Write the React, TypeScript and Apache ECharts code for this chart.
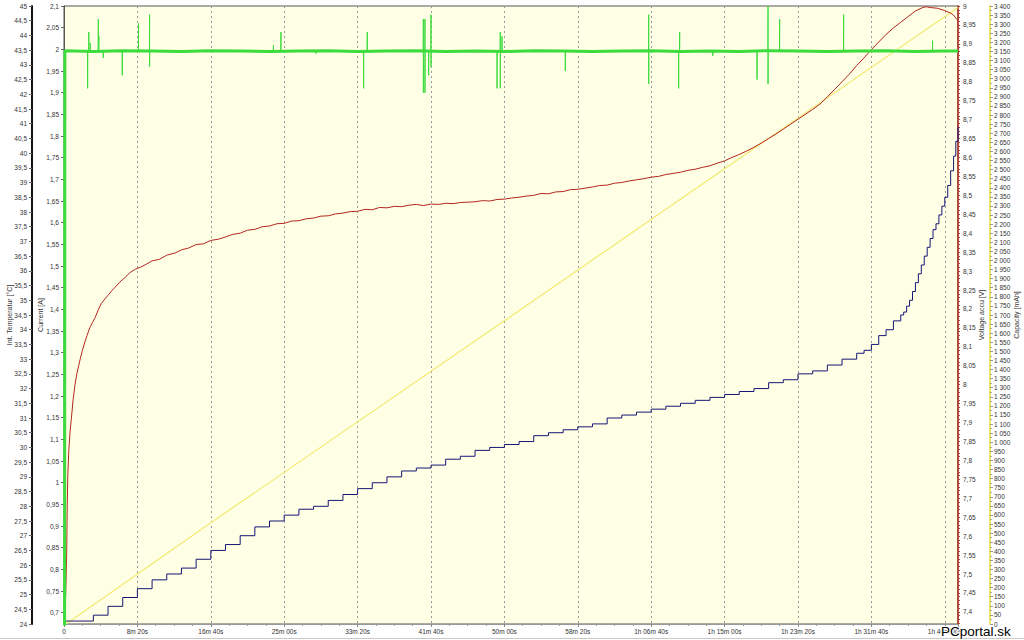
import React, { useEffect, useRef } from 'react';
import * as echarts from 'echarts';

// ---- axis ticks (label positions) ----
const timeLabelStep = 500; // s between time labels
const timeMax = 6090; // s, right edge of the plot
const tempRange = [24, 45];
const currentRange = [0.674, 2.1];
const voltRange = [7.368, 9];
const capRange = [0, 3400];
const currentTicks: number[] = [];
for (let i = 14; i <= 42; i++) currentTicks.push(Number((i * 0.05).toFixed(2)));
const voltTicks: number[] = [];
for (let i = 148; i <= 180; i++) voltTicks.push(Number((i * 0.05).toFixed(2)));
const voltMinorTicks: number[] = [];
for (let i = 737; i <= 900; i++) voltMinorTicks.push(Number((i * 0.01).toFixed(2)));

// ---- series: capacity [s, mAh] ----
const capacity: [number, number][] = [
  [14, 0], [929, 517], [3000, 1668], [6090, 3392],
];

// ---- series: internal temperature [s, °C] ----
const temperature: [number, number][] = [
  [0, 24.1], [100, 24.1], [200, 24.3], [300, 24.6], [400, 24.9], [500, 25.2], [600, 25.5],
  [700, 25.7], [800, 25.9], [900, 26.2], [1000, 26.5], [1100, 26.7], [1200, 27.0],
  [1300, 27.3], [1400, 27.5], [1500, 27.7], [1600, 27.9], [1700, 28.0], [1800, 28.2],
  [1900, 28.4], [2000, 28.6], [2100, 28.8], [2200, 29.0], [2300, 29.2], [2400, 29.3],
  [2500, 29.4], [2600, 29.6], [2700, 29.7], [2800, 29.9], [2900, 30.0], [3000, 30.1],
  [3100, 30.2], [3200, 30.4], [3300, 30.5], [3400, 30.6], [3500, 30.7], [3600, 30.8],
  [3700, 31.0], [3800, 31.1], [3900, 31.2], [4000, 31.3], [4100, 31.4], [4200, 31.5],
  [4300, 31.6], [4400, 31.7], [4500, 31.8], [4600, 31.9], [4700, 32.0], [4800, 32.2],
  [4900, 32.3], [5000, 32.5], [5100, 32.6], [5200, 32.8], [5300, 33.0], [5400, 33.2],
  [5450, 33.3], [5500, 33.5], [5550, 33.8], [5600, 34.0], [5650, 34.3], [5700, 34.5],
  [5720, 34.6], [5740, 34.8], [5760, 35.0], [5780, 35.3], [5800, 35.6], [5820, 35.9],
  [5840, 36.2], [5860, 36.5], [5880, 36.8], [5900, 37.1], [5920, 37.4], [5940, 37.6],
  [5960, 37.9], [5980, 38.2], [6000, 38.5], [6020, 38.9], [6040, 39.4], [6060, 39.9],
  [6075, 40.4], [6090, 40.9],
];

// ---- series: accu voltage [s, V] ----
const voltage: [number, number][] = [
  [6, 7.40], [12, 7.45], [18, 7.55], [20, 7.61], [22, 7.68], [26, 7.76], [32, 7.82],
  [40, 7.87], [50, 7.91], [62, 7.96], [75, 8.0], [88, 8.03], [100, 8.05], [112, 8.07],
  [125, 8.09], [140, 8.11], [157, 8.13], [175, 8.15], [195, 8.165], [213, 8.178],
  [236, 8.2], [255, 8.215], [280, 8.227], [304, 8.238], [330, 8.25], [350, 8.258],
  [380, 8.271], [418, 8.284], [450, 8.296], [486, 8.305], [520, 8.31], [560, 8.318],
  [600, 8.327], [650, 8.331], [700, 8.342], [758, 8.348], [800, 8.356], [850, 8.361],
  [900, 8.37], [950, 8.372], [1000, 8.381], [1050, 8.384], [1100, 8.39], [1150, 8.397],
  [1200, 8.4], [1250, 8.408], [1300, 8.41], [1350, 8.417], [1400, 8.419], [1450, 8.425],
  [1500, 8.426], [1550, 8.432], [1600, 8.433], [1650, 8.438], [1700, 8.44], [1750, 8.445],
  [1800, 8.446], [1850, 8.451], [1900, 8.453], [1950, 8.457], [2000, 8.458], [2050, 8.463],
  [2100, 8.462], [2150, 8.468], [2200, 8.467], [2250, 8.471], [2300, 8.47], [2350, 8.474],
  [2400, 8.476], [2450, 8.473], [2500, 8.477], [2550, 8.476], [2600, 8.479], [2650, 8.478],
  [2700, 8.481], [2750, 8.482], [2800, 8.483], [2850, 8.486], [2900, 8.485], [2950, 8.489],
  [3000, 8.49], [3050, 8.493], [3100, 8.495], [3150, 8.498], [3200, 8.5], [3250, 8.505],
  [3300, 8.504], [3350, 8.509], [3400, 8.51], [3450, 8.515], [3500, 8.516], [3550, 8.519],
  [3600, 8.522], [3650, 8.526], [3700, 8.527], [3750, 8.532], [3800, 8.534], [3850, 8.538],
  [3900, 8.541], [3950, 8.544], [4000, 8.548], [4050, 8.55], [4100, 8.555], [4150, 8.558],
  [4200, 8.561], [4250, 8.566], [4300, 8.569], [4350, 8.574], [4400, 8.578], [4450, 8.585],
  [4500, 8.591], [4550, 8.6], [4600, 8.608], [4650, 8.617], [4700, 8.627], [4750, 8.638],
  [4800, 8.65], [4850, 8.662], [4900, 8.675], [4950, 8.688], [5000, 8.701], [5050, 8.714],
  [5100, 8.727], [5150, 8.741], [5200, 8.76], [5250, 8.78], [5300, 8.8], [5350, 8.82],
  [5400, 8.843], [5450, 8.863], [5500, 8.885], [5550, 8.905], [5600, 8.925], [5650, 8.942],
  [5700, 8.957], [5750, 8.972], [5800, 8.987], [5850, 8.996], [5875, 8.998], [5900, 8.996],
  [5950, 8.994], [6000, 8.988], [6040, 8.981], [6060, 8.976], [6075, 8.968], [6090, 8.962],
];

// ---- series: charging current, steady band [s, A] ----
const currentBand: [number, number][] = [
  [4, 0.6], [6, 1.997], [200, 1.995], [400, 1.997], [600, 1.996], [800, 1.995], [1000, 1.997],
  [1200, 1.996], [1400, 1.995], [1600, 1.996], [1800, 1.997], [2000, 1.995], [2200, 1.996],
  [2400, 1.997], [2600, 1.995], [2800, 1.996], [3000, 1.995], [3200, 1.997], [3400, 1.996],
  [3600, 1.995], [3800, 1.996], [4000, 1.997], [4200, 1.995], [4400, 1.996], [4600, 1.995],
  [4800, 1.997], [5000, 1.996], [5200, 1.995], [5400, 1.996], [5600, 1.997], [5800, 1.995],
  [6000, 1.996], [6090, 1.996],
];
const currentBase = 1.996;
// spikes: [s, lowest A, highest A]
const currentSpikes: [number, number, number][] = [
  [161, 1.91, 1.996], [169, 1.996, 2.04], [179, 1.996, 2.015], [234, 1.996, 2.07],
  [238, 1.996, 2.03], [268, 1.98, 1.996], [397, 1.94, 1.996], [508, 1.996, 2.06],
  [583, 1.96, 2.08], [1427, 1.996, 2.01], [1478, 1.996, 2.04], [1717, 1.99, 1.996],
  [2041, 1.91, 1.996], [2066, 1.996, 2.04], [2448, 1.9, 2.07], [2459, 1.9, 2.07],
  [2484, 1.94, 1.996], [2500, 1.96, 2.08], [2950, 1.91, 1.996], [2972, 1.91, 2.04],
  [2984, 1.996, 2.03], [3415, 1.95, 1.996], [3983, 1.92, 2.08], [4187, 1.91, 1.996],
  [4194, 1.996, 2.04], [4420, 1.985, 1.996], [4721, 1.93, 1.996], [4796, 1.92, 2.1],
  [4875, 1.996, 2.07], [5311, 1.996, 2.08], [5917, 1.996, 2.02],
];

const FONT = '"Liberation Sans", Arial, sans-serif';
const labelStyle = { fontSize: 6.5, color: '#333', fontFamily: FONT };
const nameStyle = { fontSize: 7, color: '#333', fontFamily: FONT };

const fmtDec = (v: number) => String(Number(v.toFixed(2))).replace('.', ',');
const fmtCap = (v: number) =>
  v >= 1000 ? `${Math.floor(v / 1000)} ${String(v % 1000).padStart(3, '0')}` : String(v);
const pad = (n: number) => String(n).padStart(2, '0');
const fmtTime = (v: number) => {
  if (v === 0) return '0';
  if (v % timeLabelStep !== 0) return '';
  const h = Math.floor(v / 3600);
  const m = Math.floor((v % 3600) / 60);
  const s = v % 60;
  return h > 0 ? `${h}h ${pad(m)}m ${pad(s)}s` : `${m}m ${pad(s)}s`;
};

export default function App() {
  const ref = useRef<HTMLDivElement>(null);
  useEffect(() => {
    if (!ref.current) return;
    const chart = echarts.init(ref.current, undefined, { renderer: 'svg' });
    const spikeData: [number, number][] = [];
    currentSpikes.forEach(([t, lo, hi]) => {
      spikeData.push([t - 1, currentBase], [t, hi], [t, lo], [t + 1, currentBase]);
    });
    chart.setOption({
      animation: false,
      backgroundColor: '#ffffff',
      grid: {
        left: 64, right: 66, top: 6, bottom: 16,
        containLabel: false, outerBoundsMode: 'none',
        show: true, backgroundColor: '#FFFFE6', borderColor: '#555', borderWidth: 1,
      },
      xAxis: {
        type: 'value', min: 0, max: timeMax, interval: timeLabelStep,
        axisLine: { show: true, lineStyle: { color: '#999', width: 1 } },
        axisTick: { show: true, length: 3, lineStyle: { color: '#888' } },
        minorTick: { show: true, splitNumber: 4, length: 2, lineStyle: { color: '#999' } },
        axisLabel: { ...labelStyle, margin: 4, formatter: fmtTime, hideOverlap: false },
        splitLine: { show: true, lineStyle: { color: '#999', type: [2, 3], width: 1 } },
      },
      yAxis: [
        {
          type: 'value', position: 'left', min: currentRange[0], max: currentRange[1],
          name: 'Current [A]', nameLocation: 'middle', nameGap: 20, nameRotate: 90,
          nameMoveOverlap: false, nameTextStyle: nameStyle,
          axisLine: { show: true, lineStyle: { color: '#555', width: 1 } },
          axisTick: { show: true, length: 3, customValues: currentTicks, lineStyle: { color: '#666' } },
          axisLabel: { ...labelStyle, margin: 5, customValues: currentTicks, formatter: fmtDec },
          splitLine: { show: false },
        },
        {
          type: 'value', position: 'left', offset: 32, min: tempRange[0], max: tempRange[1], interval: 0.5,
          name: 'Int. Temperatur [°C]', nameLocation: 'middle', nameGap: 19, nameRotate: 90,
          nameMoveOverlap: false, nameTextStyle: nameStyle,
          axisLine: { show: true, lineStyle: { color: '#111', width: 2 } },
          axisTick: { show: true, length: 3, lineStyle: { color: '#666' } },
          axisLabel: { ...labelStyle, margin: 5, formatter: fmtDec },
          splitLine: { show: false },
        },
        {
          type: 'value', position: 'right', min: voltRange[0], max: voltRange[1],
          name: 'Voltage accu [V]', nameLocation: 'middle', nameGap: 20, nameRotate: 90,
          nameMoveOverlap: false, nameTextStyle: nameStyle,
          axisLine: { show: true, lineStyle: { color: '#B04A3C', width: 2 } },
          axisTick: { show: true, length: 2, customValues: voltMinorTicks, lineStyle: { color: '#B04A3C' } },
          axisLabel: { ...labelStyle, margin: 5, customValues: voltTicks, formatter: fmtDec },
          splitLine: { show: false },
        },
        {
          type: 'value', position: 'right', offset: 32, min: capRange[0], max: capRange[1], interval: 50,
          name: 'Capacity [mAh]', nameLocation: 'middle', nameGap: 23, nameRotate: 90,
          nameMoveOverlap: false, nameTextStyle: nameStyle,
          axisLine: { show: true, lineStyle: { color: '#EDE36A', width: 2 } },
          axisTick: { show: true, length: 3, lineStyle: { color: '#999' } },
          minorTick: { show: true, splitNumber: 2, length: 2, lineStyle: { color: '#aaa' } },
          axisLabel: { ...labelStyle, margin: 4, formatter: fmtCap },
          splitLine: { show: false },
        },
      ],
      series: [
        {
          name: 'Capacity', type: 'line', yAxisIndex: 3, data: capacity, showSymbol: false,
          lineStyle: { color: '#F2EA70', width: 1.2 },
        },
        {
          name: 'Temperature', type: 'line', yAxisIndex: 1, data: temperature, showSymbol: false,
          step: 'end', lineStyle: { color: '#151575', width: 1 },
        },
        {
          name: 'Voltage', type: 'line', yAxisIndex: 2, data: voltage, showSymbol: false,
          lineStyle: { color: '#B3261E', width: 1 },
        },
        {
          name: 'Current', type: 'line', yAxisIndex: 0, data: currentBand, showSymbol: false,
          lineStyle: { color: '#3CDC3C', width: 3 },
        },
        {
          name: 'Current spikes', type: 'line', yAxisIndex: 0, data: spikeData, showSymbol: false,
          lineStyle: { color: '#3CDC3C', width: 1 },
        },
      ],
      graphic: [
        { type: 'line', shape: { x1: 0, y1: 638.5, x2: 1024, y2: 638.5 }, style: { stroke: '#c8c8c8', lineWidth: 1 }, silent: true },
        {
          type: 'text', x: 941, y: 638, z: 100,
          style: {
            text: 'PCportal.sk', fontSize: 13.5, fontFamily: FONT, fill: '#000',
            stroke: '#fff', lineWidth: 2, verticalAlign: 'bottom', align: 'left',
          },
        },
      ],
    });
    return () => chart.dispose();
  }, []);
  return <div ref={ref} style={{ position: 'fixed', left: 0, top: 0, width: 1024, height: 640 }} />;
}
